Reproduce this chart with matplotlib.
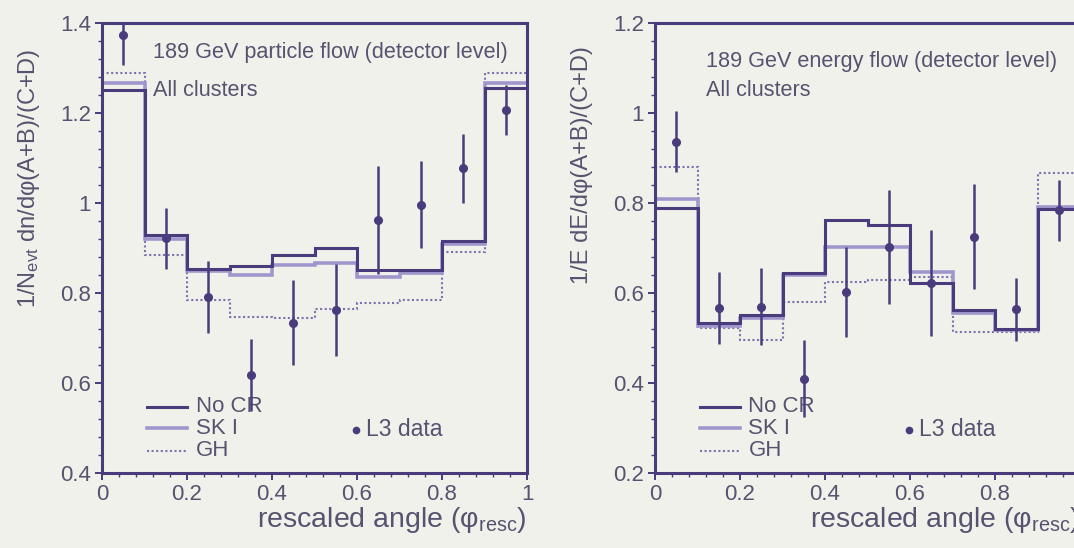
import matplotlib
matplotlib.use("Agg")
import matplotlib.pyplot as plt
import numpy as np
from matplotlib.ticker import MultipleLocator, FuncFormatter

plt.rcParams["font.family"] = ["Liberation Sans", "DejaVu Sans"]
plt.rcParams["mathtext.fontset"] = "custom"
plt.rcParams["mathtext.rm"] = "Liberation Sans"
plt.rcParams["mathtext.it"] = "Liberation Sans"

BG = "#f1f1eb"
TXT = "#57526f"
DARK = "#4a3c7c"
SKC = "#a196cc"
GHC = "#7d70b0"

edges = np.linspace(0.0, 1.0, 11)
centers = np.round(edges[:-1] + 0.05, 2)

# particle flow (left)
pf_nocr = [1.252, 0.929, 0.853, 0.860, 0.884, 0.899, 0.852, 0.851, 0.916, 1.255]
pf_sk = [1.266, 0.920, 0.848, 0.840, 0.862, 0.867, 0.836, 0.845, 0.910, 1.267]
pf_gh = [1.289, 0.884, 0.784, 0.747, 0.745, 0.765, 0.777, 0.785, 0.892, 1.290]
pf_data = [1.373, 0.922, 0.792, 0.618, 0.734, 0.762, 0.962, 0.996, 1.077, 1.207]
pf_err = [0.066, 0.068, 0.080, 0.080, 0.095, 0.103, 0.120, 0.097, 0.076, 0.055]

# energy flow (right)
ef_nocr = [0.788, 0.534, 0.551, 0.645, 0.762, 0.751, 0.622, 0.562, 0.521, 0.786]
ef_sk = [0.808, 0.526, 0.545, 0.640, 0.703, 0.703, 0.647, 0.555, 0.518, 0.792]
ef_gh = [0.881, 0.522, 0.496, 0.581, 0.625, 0.629, 0.636, 0.514, 0.514, 0.866]
ef_data = [0.936, 0.566, 0.570, 0.410, 0.603, 0.703, 0.622, 0.725, 0.564, 0.784]
ef_err = [0.068, 0.080, 0.085, 0.085, 0.100, 0.127, 0.117, 0.117, 0.070, 0.068]

W, H = 1074, 548
fig = plt.figure(figsize=(W / 100, H / 100), dpi=100, facecolor=BG)


def px_axes(x0, y_top, w, h):
    return fig.add_axes([x0 / W, 1 - (y_top + h) / H, w / W, h / H])


def style(ax, ylim):
    ax.set_facecolor(BG)
    ax.set_xlim(0, 1)
    ax.set_ylim(*ylim)
    for s in ax.spines.values():
        s.set_color(DARK)
        s.set_linewidth(2.2)
    ax.xaxis.set_major_locator(MultipleLocator(0.2))
    ax.xaxis.set_minor_locator(MultipleLocator(0.04))
    ax.yaxis.set_major_locator(MultipleLocator(0.2))
    ax.yaxis.set_minor_locator(MultipleLocator(0.04))
    fmt = FuncFormatter(lambda v, p: f"{v:g}")
    ax.xaxis.set_major_formatter(fmt)
    ax.yaxis.set_major_formatter(fmt)
    ax.tick_params(which="both", direction="out", color=DARK, top=False, right=False)
    ax.tick_params(which="major", length=5, width=1.4, labelsize=16, labelcolor=TXT, pad=3)
    ax.tick_params(which="minor", length=3, width=1.0)


def panel(ax, nocr, sk, gh, data, err, title, title_y, ylim):
    style(ax, ylim)
    ax.stairs(gh, edges, color=GHC, lw=1.5, ls=(0, (1, 1.2)), baseline=None)
    ax.stairs(sk, edges, color=SKC, lw=2.6, baseline=None)
    ax.stairs(nocr, edges, color=DARK, lw=2.2, baseline=None)
    ax.errorbar(centers, data, yerr=err, fmt="o", ms=5.5, color=DARK,
                ecolor=DARK, elinewidth=1.8, capsize=0, zorder=5)
    ax.text(0.12, title_y, title, transform=ax.transAxes, fontsize=15.6,
            color=TXT, va="center", ha="left")
    ax.text(0.12, 0.85, "All clusters", transform=ax.transAxes, fontsize=15.6,
            color=TXT, va="center", ha="left")
    ax.set_xlabel(r"rescaled angle ($\mathregular{φ_{resc}}$)", fontsize=20.5,
                  color=TXT, loc="right", labelpad=0)

    # legend, drawn by hand in axes coordinates
    ys = [0.147, 0.100, 0.049]
    styles = [dict(color=DARK, lw=2.2), dict(color=SKC, lw=2.6),
              dict(color=GHC, lw=1.5, ls=(0, (1, 1.2)))]
    names = ["No CR", "SK I", "GH"]
    for yy, st, nm in zip(ys, styles, names):
        ax.plot([0.105, 0.2], [yy, yy], transform=ax.transAxes, **st)
        ax.text(0.22, yy, nm, transform=ax.transAxes, fontsize=16,
                color=TXT, va="center", ha="left")
    ax.plot([0.597], [0.096], "o", ms=4.5, color=DARK, transform=ax.transAxes)
    ax.text(0.622, 0.096, "L3 data", transform=ax.transAxes, fontsize=16.5,
            color=TXT, va="center", ha="left")


ax1 = px_axes(102, 23, 425, 450)
panel(ax1, pf_nocr, pf_sk, pf_gh, pf_data, pf_err,
      "189 GeV particle flow (detector level)", 0.935, (0.4, 1.4))
fig.text(29 / W, 1 - 178 / H, r"1/N$_{\mathregular{evt}}$ dn/dφ(A+B)/(C+D)",
         rotation=90, fontsize=17, color=TXT, ha="center", va="center")

ax2 = px_axes(655, 23, 425, 450)
panel(ax2, ef_nocr, ef_sk, ef_gh, ef_data, ef_err,
      "189 GeV energy flow (detector level)", 0.915, (0.2, 1.2))
fig.text(582 / W, 1 - 165 / H, "1/E dE/dφ(A+B)/(C+D)",
         rotation=90, fontsize=17, color=TXT, ha="center", va="center")

fig.savefig("out.png", dpi=100, facecolor=BG)
